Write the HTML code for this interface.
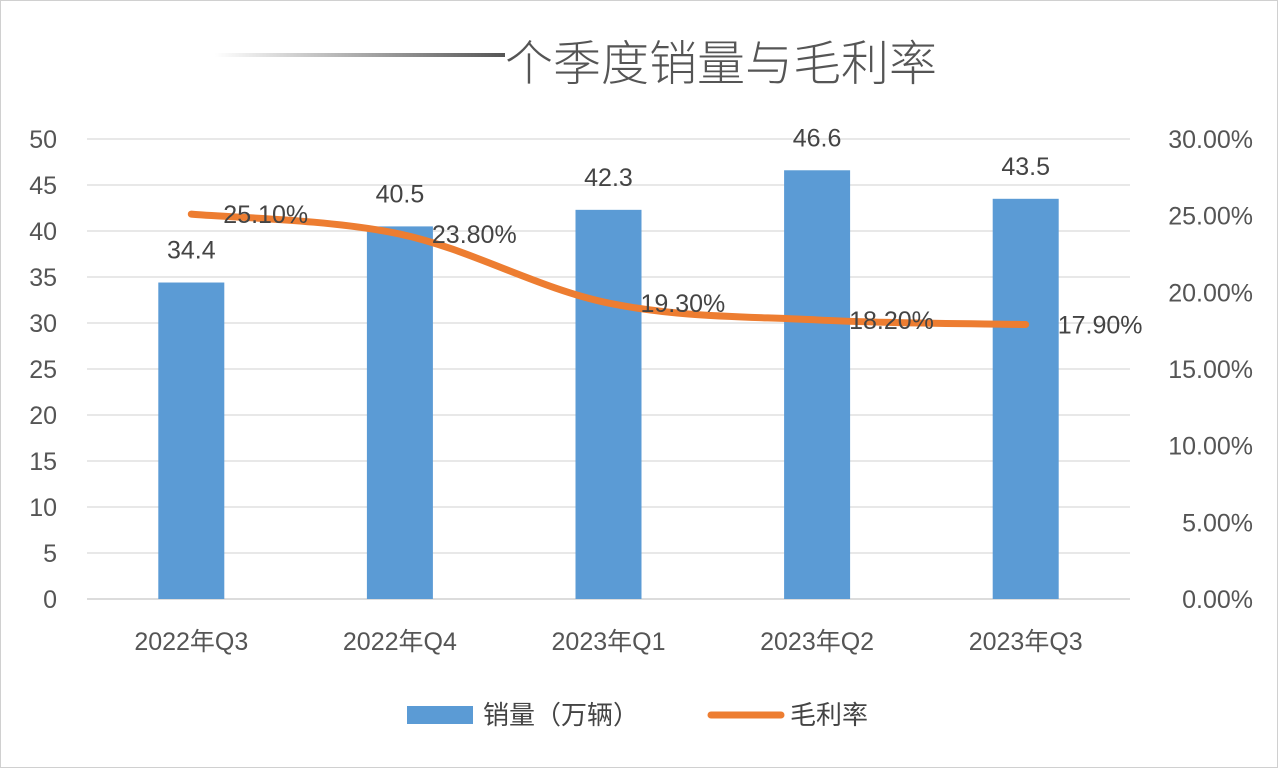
<!DOCTYPE html>
<html><head><meta charset="utf-8">
<style>
html,body{margin:0;padding:0;background:#fff;}
svg{display:block;font-family:"Liberation Sans","Noto Sans CJK SC",sans-serif;}
</style></head>
<body>
<svg id="chart" width="1278" height="768" viewBox="0 0 1278 768">
<defs>
<linearGradient id="tg" x1="0" x2="1" y1="0" y2="0">
<stop offset="0" stop-color="#fff"/><stop offset="1" stop-color="#555"/>
</linearGradient>
</defs>
<rect x="0.5" y="0.5" width="1277" height="767" fill="#fff" stroke="#d0d0d0"/>
<rect x="215" y="53" width="290" height="4" fill="url(#tg)"/>
<text x="505" y="80" font-size="48" fill="#555" font-family="'Noto Sans CJK SC',sans-serif" font-weight="300">个季度销量与毛利率</text>
<g id="grid"></g><g id="bars"></g><g id="line"></g><g id="labels"></g>
<g>
<rect x="407" y="706" width="66" height="18" fill="#5b9bd5"/>
<text x="483" y="724" font-size="26" fill="#444" font-family="'Noto Sans CJK SC',sans-serif">销量（万辆）</text>
<line x1="711" y1="715" x2="781" y2="715" stroke="#ed7d31" stroke-width="7" stroke-linecap="round"/>
<text x="790" y="724" font-size="26" fill="#444" font-family="'Noto Sans CJK SC',sans-serif">毛利率</text>
</g>
</svg>
<script>
const categories = ["2022年Q3","2022年Q4","2023年Q1","2023年Q2","2023年Q3"];
const sales = [34.4, 40.5, 42.3, 46.6, 43.5];
const margin = [25.10, 23.80, 19.30, 18.20, 17.90];
const leftTicks = [0,5,10,15,20,25,30,35,40,45,50];
const rightTicks = [0,5,10,15,20,25,30];

const NS="http://www.w3.org/2000/svg";
const L=87,R=1130,T=139,B=599;
const step=(R-L)/categories.length;
const xc=i=>L+step*(i+0.5);
const yL=v=>B-(v/50)*(B-T);
const yR=v=>B-(v/30)*(B-T);
function mk(tag,attrs,parent){const e=document.createElementNS(NS,tag);for(const k in attrs)e.setAttribute(k,attrs[k]);parent.appendChild(e);return e;}
const grid=document.getElementById('grid'),bars=document.getElementById('bars'),line=document.getElementById('line'),labels=document.getElementById('labels');

leftTicks.forEach(t=>{
  const g=mk('line',{x1:L,x2:R,y1:yL(t),y2:yL(t),stroke:t===0?'#c8c8c8':'#d9d9d9','stroke-width':1.3},grid);
  
  
  const tx=mk('text',{x:57,y:yL(t)+9,'font-size':25,fill:'#555','text-anchor':'end'},grid);
  tx.textContent=t;
  
  
});
rightTicks.forEach(t=>{
  const tx=mk('text',{x:1253,y:yR(t)+9,'font-size':25,fill:'#555','text-anchor':'end'},grid);
  tx.textContent=t.toFixed(2)+'%';
  
  
});
categories.forEach((c,i)=>{
  const tx=mk('text',{x:xc(i),y:650,'font-size':25,fill:'#555','text-anchor':'middle','font-family':"'Liberation Sans','Noto Sans CJK SC',sans-serif"},grid);
  tx.textContent=c;
  
  
});
const bw=66;
sales.forEach((v,i)=>{
  const r=mk('rect',{x:xc(i)-bw/2,y:yL(v),width:bw,height:B-yL(v),fill:'#5b9bd5'},bars);
  
  
  const tx=mk('text',{x:xc(i),y:yL(v)-24,'font-size':25,fill:'#444','text-anchor':'middle'},labels);
  tx.textContent=v.toFixed(1);
  
  
});
// smooth line
const pts=margin.map((v,i)=>[xc(i),yR(v)]);
let d=`M${pts[0][0]},${pts[0][1]}`;
for(let i=0;i<pts.length-1;i++){
  const p0=pts[Math.max(0,i-1)],p1=pts[i],p2=pts[i+1],p3=pts[Math.min(pts.length-1,i+2)];
  const k=0.17;
  const c1=[p1[0]+(p2[0]-p0[0])*k,p1[1]+(p2[1]-p0[1])*k];
  const c2=[p2[0]-(p3[0]-p1[0])*k,p2[1]-(p3[1]-p1[1])*k];
  d+=` C${c1[0]},${c1[1]} ${c2[0]},${c2[1]} ${p2[0]},${p2[1]}`;
}
const pl=mk('path',{d:d,fill:'none',stroke:'#ed7d31','stroke-width':7,'stroke-linecap':'round','stroke-linejoin':'round'},line);


margin.forEach((v,i)=>{
  const tx=mk('text',{x:xc(i)+32,y:yR(v)+9,'font-size':25,fill:'#444'},labels);
  tx.textContent=v.toFixed(2)+'%';
  
  
});
</script>
</body></html>
